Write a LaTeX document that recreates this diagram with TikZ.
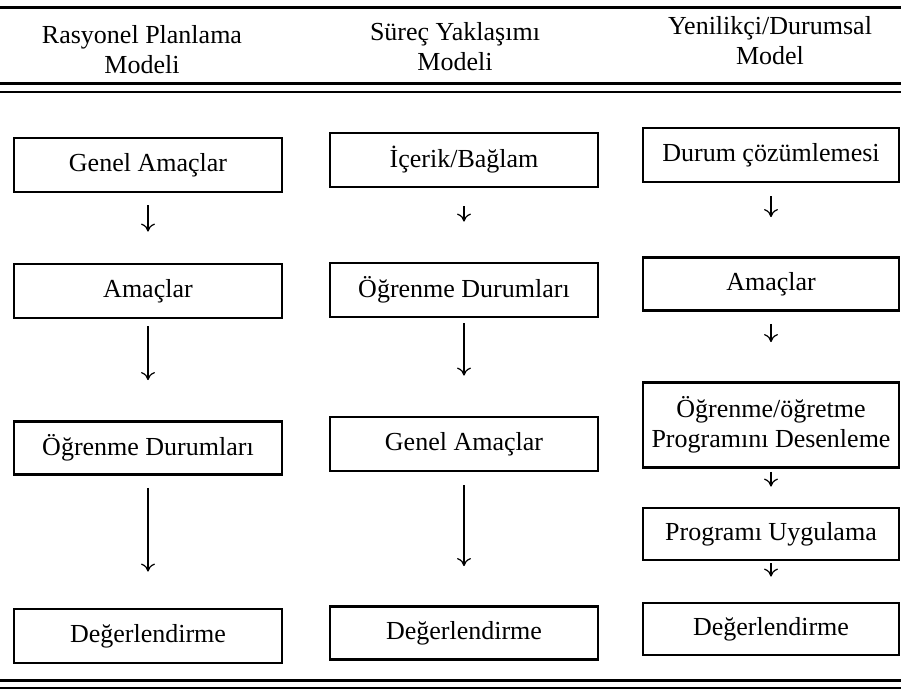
\documentclass[tikz,border=0pt]{standalone}
\usepackage{fontspec}
\setmainfont{Liberation Serif}
\usetikzlibrary{arrows.meta}

\tikzstyle{block} = [draw, rectangle, line width=1.4pt, inner sep=2pt,
    minimum height=27pt, font=\fontsize{13}{15}\selectfont]
\tikzstyle{head} = [align=center, inner sep=0pt, font=\fontsize{13}{15}\selectfont]
\tikzstyle{flow} = [-{To[length=4pt,width=7pt]}, line width=0.6pt]
\tikzstyle{rule} = [line width=1.5pt]

\begin{document}
\begin{tikzpicture}[x=0.5pt, y=-0.5pt]
      \useasboundingbox [fill=white] (0,0) rectangle (901,694);

      % headings
      \draw [rule] (0,8) -- (901,8);
      \node [head] (hd1) at (142,50) {Rasyonel Planlama\\Modeli};
      \node [head] (hd2) at (455,47) {Süreç Yaklaşımı\\Modeli};
      \node [head] (hd3) at (770,41) {Yenilikçi/Durumsal\\Model};
      \draw [rule] (0,84) -- (901,84);
      \draw [line width=1pt] (0,92) -- (901,92);

      % first column
      \node [block, minimum width=134pt] (gen1) at (148,165) {Genel Amaçlar};
      \node [block, minimum width=134pt] (ama1) at (148,291) {Amaçlar};
      \node [block, minimum width=134pt, minimum height=26.5pt] (ogr1) at (148,448) {Öğrenme Durumları};
      \node [block, minimum width=134pt] (deg1) at (148,636) {Değerlendirme};

      % second column
      \node [block, minimum width=134pt] (ice2) at (464,160) {İçerik/Bağlam};
      \node [block, minimum width=134pt] (ogr2) at (464,290) {Öğrenme Durumları};
      \node [block, minimum width=134pt] (gen2) at (464,444) {Genel Amaçlar};
      \node [block, minimum width=134pt, minimum height=26.5pt] (deg2) at (464,633) {Değerlendirme};

      % third column
      \node [block, minimum width=128pt] (dur3) at (771,155) {Durum çözümlemesi};
      \node [block, minimum width=128pt, minimum height=26.5pt] (ama3) at (771,284) {Amaçlar};
      \node [block, minimum width=128pt, minimum height=42.5pt, align=center] (ogt3) at (771,425)
            {Öğrenme/öğretme\\Programını Desenleme};
      \node [block, minimum width=128pt, minimum height=26pt] (uyg3) at (771,534) {Programı Uygulama};
      \node [block, minimum width=128pt, minimum height=26pt] (deg3) at (771,629) {Değerlendirme};

      \draw [flow, shorten <=6pt, shorten >=15.5pt] (gen1) -- (ama1);
      \draw [flow, shorten <=3.5pt, shorten >=20pt] (ama1) -- (ogr1);
      \draw [flow, shorten <=6pt, shorten >=18pt] (ogr1) -- (deg1);

      \draw [flow, shorten <=9pt, shorten >=20pt] (ice2) -- (ogr2);
      \draw [flow, shorten <=2.5pt, shorten >=20pt] (ogr2) -- (gen2);
      \draw [flow, shorten <=6.5pt, shorten >=19.5pt] (gen2) -- (deg2);

      \draw [flow, shorten <=6.5pt, shorten >=19.5pt] (dur3) -- (ama3);
      \draw [flow, shorten <=6pt, shorten >=19.5pt] (ama3) -- (ogt3);
      \draw [flow, shorten <=1.5pt, shorten >=10pt] (ogt3) -- (uyg3);
      \draw [flow, shorten <=1pt, shorten >=12.5pt] (uyg3) -- (deg3);

      % closing rules
      \draw [rule] (0,681) -- (901,681);
      \draw [line width=1pt] (0,688) -- (901,688);
    \end{tikzpicture}
\end{document}
